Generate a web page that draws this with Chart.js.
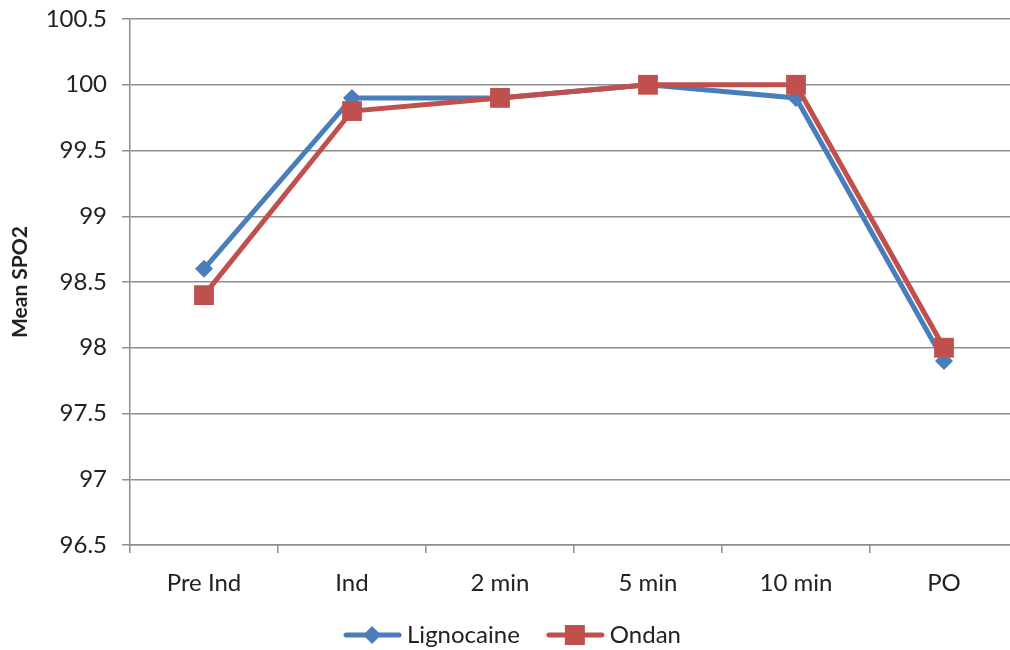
<!DOCTYPE html>
<html>
<head>
<meta charset="utf-8">
<script src="https://cdn.jsdelivr.net/npm/chart.js@4/dist/chart.umd.min.js"></script>
<style>
  html, body { margin: 0; padding: 0; background: #ffffff; overflow: hidden; }
  #wrap { width: 1010px; height: 650px; overflow: hidden; }
  #c { display: block; }
</style>
</head>
<body>
<div id="wrap"><canvas id="c" width="1018" height="650"></canvas></div>
<script>
// Mean SpO2 at each time point for the two study groups
const timePoints = ['Pre Ind', 'Ind', '2 min', '5 min', '10 min', 'PO'];
const lignocaine = [98.6, 99.9, 99.9, 100, 99.9, 97.9];
const ondan = [98.4, 99.8, 99.9, 100, 100, 98.0];
const yTicks = [96.5, 97, 97.5, 98, 98.5, 99, 99.5, 100, 100.5];

const BLUE = '#4a7ebb';
const RED = '#c0504d';
const TEXT = '#222222';
const GRID = '#8e8e8e';
const FONT = 'Lato, "Open Sans", sans-serif';

// Legend swatch: a short line with the series marker in the middle
// (left margin is transparent so the visible swatch sits next to its text)
function swatch(color, shape) {
  const cv = document.createElement('canvas');
  cv.width = 76; cv.height = 24;
  const g = cv.getContext('2d');
  g.strokeStyle = color; g.lineWidth = 5; g.lineCap = 'round';
  g.beginPath(); g.moveTo(18, 12); g.lineTo(71, 12); g.stroke();
  g.fillStyle = color;
  g.beginPath();
  if (shape === 'diamond') {
    g.moveTo(44, 3); g.lineTo(53, 12); g.lineTo(44, 21); g.lineTo(35, 12);
  } else {
    g.rect(34, 2, 20, 20);
  }
  g.closePath(); g.fill();
  return cv;
}
const blueSwatch = swatch(BLUE, 'diamond');
const redSwatch = swatch(RED, 'square');

// Fixed axis box sizes so the plot area sits where intended
function fixX(s) {
  s.height = 58;
  s.paddingLeft = 0; s.paddingRight = 0;
}
function fixY(s) {
  s.width = 130;
  s.paddingTop = 0; s.paddingBottom = 0;
}

new Chart(document.getElementById('c'), {
  type: 'line',
  data: {
    labels: timePoints,
    datasets: [
      {
        label: 'Lignocaine',
        data: lignocaine,
        borderColor: BLUE,
        backgroundColor: BLUE,
        borderWidth: 5,
        pointStyle: 'rectRot',
        pointRadius: 9,
        pointBorderWidth: 0,
        tension: 0,
        order: 1
      },
      {
        label: 'Ondan',
        data: ondan,
        borderColor: RED,
        backgroundColor: RED,
        borderWidth: 5,
        pointStyle: 'rect',
        pointRadius: 14,
        pointBorderWidth: 0,
        tension: 0,
        order: 0
      }
    ]
  },
  options: {
    responsive: false,
    animation: false,
    devicePixelRatio: 1,
    layout: { autoPadding: false, padding: { top: 19, right: 0, left: 0, bottom: -7 } },
    plugins: {
      tooltip: { enabled: false },
      legend: {
        position: 'bottom',
        labels: {
          usePointStyle: true,
          pointStyleWidth: 58,
          padding: 20,
          color: TEXT,
          font: { family: FONT, size: 24 },
          sort: (a, b) => a.datasetIndex - b.datasetIndex,
          generateLabels: (chart) => chart.data.datasets.map((ds, i) => ({
            text: ds.label,
            datasetIndex: i,
            pointStyle: i === 0 ? blueSwatch : redSwatch,
            fillStyle: ds.borderColor,
            strokeStyle: ds.borderColor,
            lineWidth: 0,
            fontColor: TEXT,
            hidden: false
          }))
        }
      }
    },
    scales: {
      x: {
        offset: true,
        grid: {
          offset: true,
          drawOnChartArea: false,
          drawTicks: true,
          tickLength: 8,
          color: GRID,
          lineWidth: 1.5
        },
        border: { color: GRID, width: 1.5 },
        ticks: {
          color: TEXT,
          font: { family: FONT, size: 24 },
          padding: 16,
          maxRotation: 0
        },
        afterFit: fixX
      },
      y: {
        min: 96.5,
        max: 100.5,
        afterBuildTicks: (s) => { s.ticks = yTicks.map(v => ({ value: v })); },
        grid: {
          color: GRID,
          lineWidth: 1.5,
          tickLength: 8
        },
        border: { color: GRID, width: 1.5 },
        ticks: {
          color: TEXT,
          font: { family: FONT, size: 24 },
          padding: 15,
          callback: (v) => String(v)
        },
        title: {
          display: true,
          text: 'Mean SPO2',
          color: TEXT,
          font: { family: FONT, size: 21, weight: 'bold' },
          padding: { top: 8, bottom: 0 }
        },
        afterFit: fixY
      }
    }
  }
});
</script>
</body>
</html>
